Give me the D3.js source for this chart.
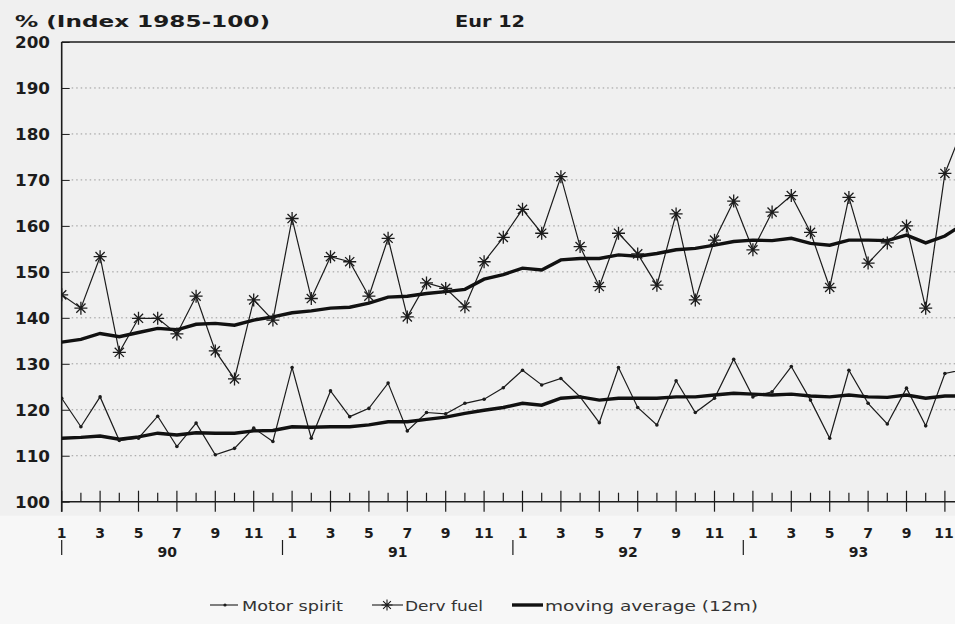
<!DOCTYPE html>
<html>
<head>
<meta charset="utf-8">
<script src="https://cdn.jsdelivr.net/npm/d3@7"></script>
<style>
  body { margin: 0; background: #f7f7f7; }
  svg { display: block; font-family: "DejaVu Sans", sans-serif; }
</style>
</head>
<body>
<div id="chart"></div>
<script>
// monthly index values, Jan 1990 .. Dec 1993
var motorSpirit = [122.5, 116.3, 122.8, 113.3, 113.8, 118.6, 112.0, 117.1, 110.2, 111.6, 116.0, 113.1,
                   129.2, 113.8, 124.1, 118.5, 120.3, 125.8, 115.4, 119.4, 119.1, 121.4, 122.3, 124.8,
                   128.6, 125.4, 126.8, 122.8, 117.2, 129.2, 120.5, 116.7, 126.3, 119.4, 122.5, 131.0,
                   122.8, 123.9, 129.4, 122.1, 113.8, 128.6, 121.4, 116.9, 124.7, 116.5, 127.9, 128.8];
var dervFuel = [145.0, 142.1, 153.3, 132.5, 139.9, 139.9, 136.5, 144.7, 132.8, 126.7, 143.9, 139.5,
                161.6, 144.2, 153.3, 152.2, 144.7, 157.3, 140.2, 147.6, 146.4, 142.4, 152.2, 157.5,
                163.6, 158.4, 170.7, 155.5, 146.8, 158.4, 153.9, 147.1, 162.6, 143.9, 156.9, 165.4,
                154.8, 163.0, 166.6, 158.6, 146.6, 166.2, 151.9, 156.3, 160.0, 142.1, 171.4, 182.0];
var motorAvg = [113.8, 114.0, 114.3, 113.6, 114.1, 114.9, 114.5, 115.0, 114.9, 114.9, 115.4, 115.5,
                116.3, 116.2, 116.3, 116.3, 116.7, 117.4, 117.4, 117.9, 118.4, 119.2, 119.9, 120.5,
                121.4, 121.0, 122.5, 122.8, 122.1, 122.5, 122.5, 122.5, 122.8, 122.8, 123.2, 123.6,
                123.4, 123.2, 123.4, 123.0, 122.8, 123.2, 122.8, 122.7, 123.2, 122.5, 123.0, 123.0];
var dervAvg = [134.7, 135.3, 136.6, 135.9, 136.8, 137.7, 137.4, 138.6, 138.8, 138.4, 139.5, 140.2,
               141.1, 141.5, 142.1, 142.3, 143.2, 144.5, 144.7, 145.3, 145.7, 146.2, 148.4, 149.4,
               150.8, 150.4, 152.6, 152.9, 152.9, 153.7, 153.4, 154.0, 154.8, 155.1, 155.8, 156.6,
               156.9, 156.8, 157.3, 156.2, 155.8, 156.9, 156.9, 156.8, 158.0, 156.3, 157.8, 160.5];

var monthLabels = ["1", "3", "5", "7", "9", "11"];
var yearLabels = ["90", "91", "92", "93"];
var yTicks = [100, 110, 120, 130, 140, 150, 160, 170, 180, 190, 200];
var legendNames = ["Motor spirit", "Derv fuel", "moving average (12m)"];

var chartW = 955, chartH = 624;
var plotL = 61.7, plotT = 42, plotB = 501.7;
var ink = "#1c1c1c";

var svg = d3.select("#chart").append("svg")
  .attr("width", chartW)
  .attr("height", chartH);

var x = d3.scaleLinear().domain([0, 46]).range([plotL, 944.9]);
var y = d3.scaleLinear().domain([100, 200]).range([plotB, plotT]);

// grey backdrop behind title and plot
svg.append("rect")
  .attr("x", 0).attr("y", 0)
  .attr("width", chartW).attr("height", plotB + 14)
  .attr("fill", "#f0f0f0");

svg.append("defs").append("clipPath").attr("id", "clip")
  .append("rect").attr("x", plotL).attr("y", plotT).attr("width", chartW - plotL).attr("height", plotB - plotT);

// titles
svg.append("text").attr("x", 15).attr("y", 27)
  .attr("font-size", 16).attr("font-weight", "bold").attr("fill", ink)
  .attr("textLength", 255).attr("lengthAdjust", "spacingAndGlyphs")
  .text("% (Index 1985-100)");
svg.append("text").attr("x", 455).attr("y", 27)
  .attr("font-size", 16).attr("font-weight", "bold").attr("fill", ink)
  .attr("textLength", 70).attr("lengthAdjust", "spacingAndGlyphs")
  .text("Eur 12");

// dotted grid lines
svg.append("g").selectAll("line")
  .data(yTicks.filter(function(d) { return d > 100 && d < 200; }))
  .enter().append("line")
  .attr("x1", plotL + 10).attr("x2", chartW)
  .attr("y1", function(d) { return y(d); })
  .attr("y2", function(d) { return y(d); })
  .attr("stroke", "#9a9a9a").attr("stroke-width", 1)
  .attr("stroke-dasharray", "1.5,3");

// y axis
var yAxis = d3.axisRight(y).tickValues(yTicks).tickSize(8).tickFormat("");
var gy = svg.append("g").attr("transform", "translate(" + plotL + ",0)").call(yAxis);
gy.select(".domain").remove();
gy.selectAll("line").attr("stroke", ink);
svg.append("line").attr("x1", plotL).attr("x2", plotL).attr("y1", plotT).attr("y2", plotB + 10)
  .attr("stroke", ink).attr("stroke-width", 1.6);
svg.append("line").attr("x1", plotL).attr("x2", chartW).attr("y1", plotT).attr("y2", plotT)
  .attr("stroke", ink).attr("stroke-width", 1.4);

svg.append("g").selectAll("text")
  .data(yTicks)
  .enter().append("text")
  .attr("x", 50).attr("y", function(d) { return y(d) + 6; })
  .attr("text-anchor", "end")
  .attr("font-size", 15).attr("font-weight", "bold").attr("fill", ink)
  .attr("textLength", 35).attr("lengthAdjust", "spacingAndGlyphs")
  .text(function(d) { return d; });

// x axis
var months = d3.range(0, 47);
svg.append("line").attr("x1", plotL).attr("x2", chartW).attr("y1", plotB).attr("y2", plotB)
  .attr("stroke", ink).attr("stroke-width", 1.4);
svg.append("g").selectAll("line")
  .data(months)
  .enter().append("line")
  .attr("x1", function(d) { return x(d); })
  .attr("x2", function(d) { return x(d); })
  .attr("y1", function(d) { return d % 2 === 0 ? plotB - 11 : plotB - 9; })
  .attr("y2", function(d) { return d % 2 === 0 ? plotB + 10 : plotB; })
  .attr("stroke", ink).attr("stroke-width", 1.2);

svg.append("g").selectAll("text")
  .data(months.filter(function(d) { return d % 2 === 0; }))
  .enter().append("text")
  .attr("x", function(d) { return d === 46 ? x(d) - 1 : x(d); })
  .attr("y", 538)
  .attr("text-anchor", "middle")
  .attr("font-size", 14).attr("font-weight", "bold").attr("fill", ink)
  .text(function(d) { return monthLabels[(d % 12) / 2]; });

svg.append("g").selectAll("text")
  .data(yearLabels)
  .enter().append("text")
  .attr("x", function(d, i) { return x(5.5 + 12 * i); })
  .attr("y", 557)
  .attr("text-anchor", "middle")
  .attr("font-size", 14).attr("font-weight", "bold").attr("fill", ink)
  .text(function(d) { return d; });

svg.append("g").selectAll("line")
  .data(yearLabels)
  .enter().append("line")
  .attr("x1", function(d, i) { return i === 0 ? x(0) : x(12 * i - 0.5); })
  .attr("x2", function(d, i) { return i === 0 ? x(0) : x(12 * i - 0.5); })
  .attr("y1", 540).attr("y2", 555)
  .attr("stroke", ink).attr("stroke-width", 1.2);

// series
var line = d3.line()
  .x(function(d, i) { return x(i); })
  .y(function(d) { return y(d); });

var plot = svg.append("g").attr("clip-path", "url(#clip)");

plot.append("path").datum(motorSpirit).attr("d", line)
  .attr("fill", "none").attr("stroke", ink).attr("stroke-width", 1.2);
plot.append("path").datum(dervFuel).attr("d", line)
  .attr("fill", "none").attr("stroke", ink).attr("stroke-width", 1.2);
plot.append("path").datum(motorAvg).attr("d", line)
  .attr("fill", "none").attr("stroke", "#111").attr("stroke-width", 3.4);
plot.append("path").datum(dervAvg).attr("d", line)
  .attr("fill", "none").attr("stroke", "#111").attr("stroke-width", 3.4);

// markers
plot.append("g").selectAll("circle")
  .data(motorSpirit)
  .enter().append("circle")
  .attr("cx", function(d, i) { return x(i); })
  .attr("cy", function(d) { return y(d); })
  .attr("r", 1.8).attr("fill", ink);

function star(r) {
  var p = "";
  for (var k = 0; k < 4; k++) {
    var a = k * Math.PI / 4;
    var dx = r * Math.cos(a), dy = r * Math.sin(a);
    p += "M" + (-dx) + "," + (-dy) + "L" + dx + "," + dy;
  }
  return p;
}
plot.append("g").selectAll("path")
  .data(dervFuel)
  .enter().append("path")
  .attr("transform", function(d, i) { return "translate(" + x(i) + "," + y(d) + ")"; })
  .attr("d", star(6.5))
  .attr("stroke", ink).attr("stroke-width", 1.3).attr("fill", "none");

// legend
var lg = svg.append("g");
lg.append("line").attr("x1", 210).attr("x2", 238).attr("y1", 605).attr("y2", 605)
  .attr("stroke", ink).attr("stroke-width", 1.1);
lg.append("circle").attr("cx", 225).attr("cy", 605).attr("r", 1.6).attr("fill", ink);
lg.append("line").attr("x1", 372).attr("x2", 403).attr("y1", 605).attr("y2", 605)
  .attr("stroke", ink).attr("stroke-width", 1.1);
lg.append("path").attr("transform", "translate(387,605)").attr("d", star(5.5))
  .attr("stroke", ink).attr("stroke-width", 1.1).attr("fill", "none");
lg.append("line").attr("x1", 512).attr("x2", 543).attr("y1", 605).attr("y2", 605)
  .attr("stroke", "#111").attr("stroke-width", 3.4);

var legendPos = [[242, 101], [405, 78], [545, 213]];
lg.selectAll("text")
  .data(legendNames)
  .enter().append("text")
  .attr("x", function(d, i) { return legendPos[i][0]; })
  .attr("y", 611)
  .attr("font-size", 14).attr("fill", "#333")
  .attr("textLength", function(d, i) { return legendPos[i][1]; })
  .attr("lengthAdjust", "spacingAndGlyphs")
  .text(function(d) { return d; });
</script>
</body>
</html>
